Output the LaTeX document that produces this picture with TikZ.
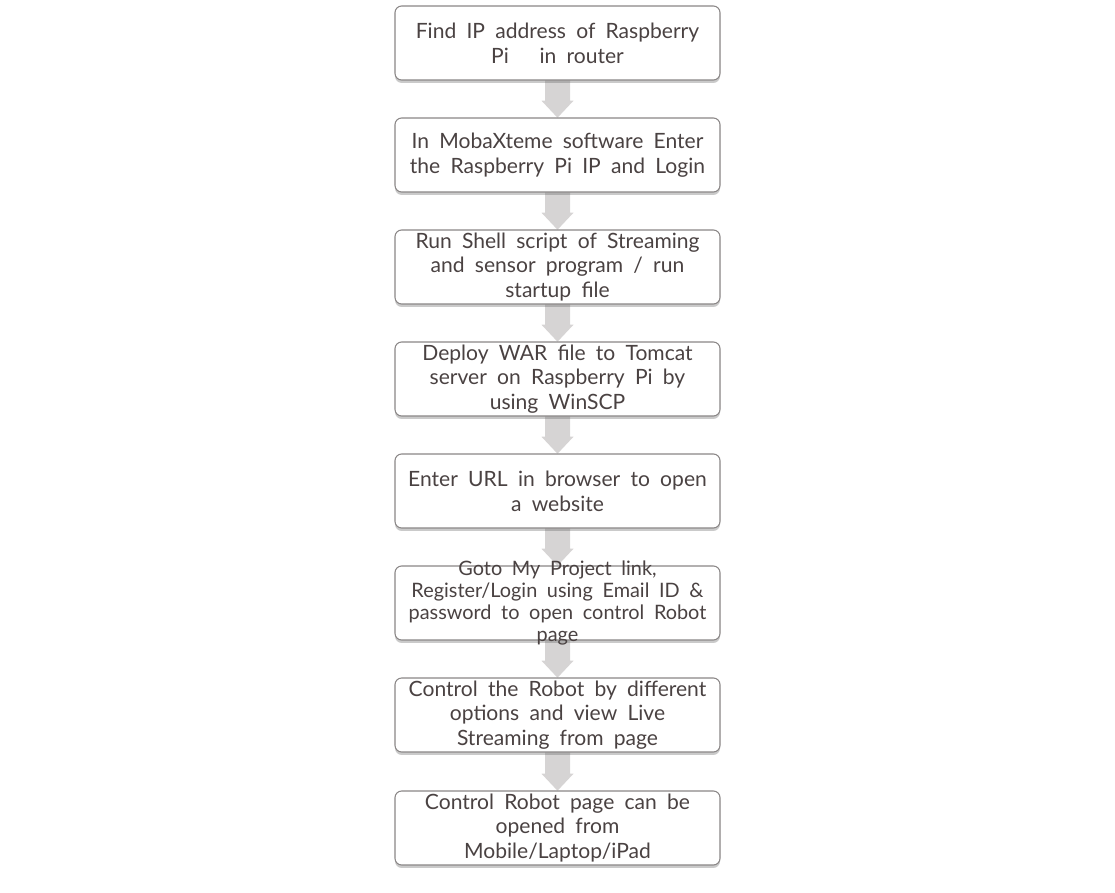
\documentclass[tikz,border=0pt]{standalone}
\usepackage{fontspec}
\setmainfont[WordSpace=1.9]{Lato}
\usetikzlibrary{calc,shadows}
\definecolor{txt}{HTML}{4A4242}
\definecolor{edge}{HTML}{8A8686}
\definecolor{arrc}{HTML}{D6D4D4}
\tikzset{
  stepbox/.style={draw=edge, line width=0.8pt, rounded corners=5pt, fill=white,
    minimum width=243.75pt, minimum height=55.5pt, inner sep=0pt,
    drop shadow={shadow xshift=0pt, shadow yshift=-2.2pt, opacity=0.35, fill=black!60}},
  ghostbox/.style={minimum width=243.75pt, minimum height=55.5pt, inner sep=0pt},
  steptext/.style={text=txt, align=center, font=\fontsize{15.8}{18.5}\selectfont, inner sep=0pt},
  smalltext/.style={text=txt, align=center, font=\fontsize{14.9}{16.5}\selectfont, inner sep=0pt},
  arrowfill/.style={fill=arrc}
}
\newcommand\flowarr[2]{%
  \fill[arrowfill] ($(#1.south)+(-12.5,-3)$) -- ($(#1.south)+(12.5,-3)$)
    -- ($(#2.north)+(12.5,-17)$) -- ($(#2.north)+(16,-17)$) -- (#2.north)
    -- ($(#2.north)+(-16,-17)$) -- ($(#2.north)+(-12.5,-17)$) -- cycle;}
\begin{document}
\begin{tikzpicture}[x=0.75pt,y=-0.75pt]
\useasboundingbox (0,0) rectangle (1115,893);
\foreach \i/\yy in {1/43,2/155,3/267,4/379,5/491,6/603,7/715,8/828}{
  \node[ghostbox] (g\i) at (557.5,\yy) {};
}
% arrows (behind boxes)
\flowarr{g1}{g2}
\flowarr{g2}{g3}
\flowarr{g3}{g4}
\flowarr{g4}{g5}
\flowarr{g5}{g6}
\flowarr{g6}{g7}
\flowarr{g7}{g8}
% boxes
\node[stepbox] (b1) at (g1) {};
\node[stepbox] (b2) at (g2) {};
\node[stepbox] (b3) at (g3) {};
\node[stepbox] (b4) at (g4) {};
\node[stepbox] (b5) at (g5) {};
\node[stepbox] (b6) at (g6) {};
\node[stepbox] (b7) at (g7) {};
\node[stepbox] (b8) at (g8) {};
% texts
\node[steptext] (t1) at (b1.center) {Find IP address of Raspberry\\Pi \ \ in router};
\node[steptext] (t2) at (b2.center) {In MobaXteme software Enter\\the Raspberry Pi IP and Login};
\node[steptext] (t3) at (b3.center) {Run Shell script of Streaming\\and sensor program / run\\startup file};
\node[steptext] (t4) at (b4.center) {Deploy WAR file to Tomcat\\server on Raspberry Pi by\\using WinSCP};
\node[steptext] (t5) at (b5.center) {Enter URL in browser to open\\a website};
\node[smalltext] (t6) at (b6.center) {Goto My Project link,\\Register/Login using Email ID \&\\password to open control Robot\\page};
\node[steptext] (t7) at (b7.center) {Control the Robot by different\\options and view Live\\Streaming from page};
\node[steptext] (t8) at (b8.center) {Control Robot page can be\\opened from\\Mobile/Laptop/iPad};
\end{tikzpicture}
\end{document}
